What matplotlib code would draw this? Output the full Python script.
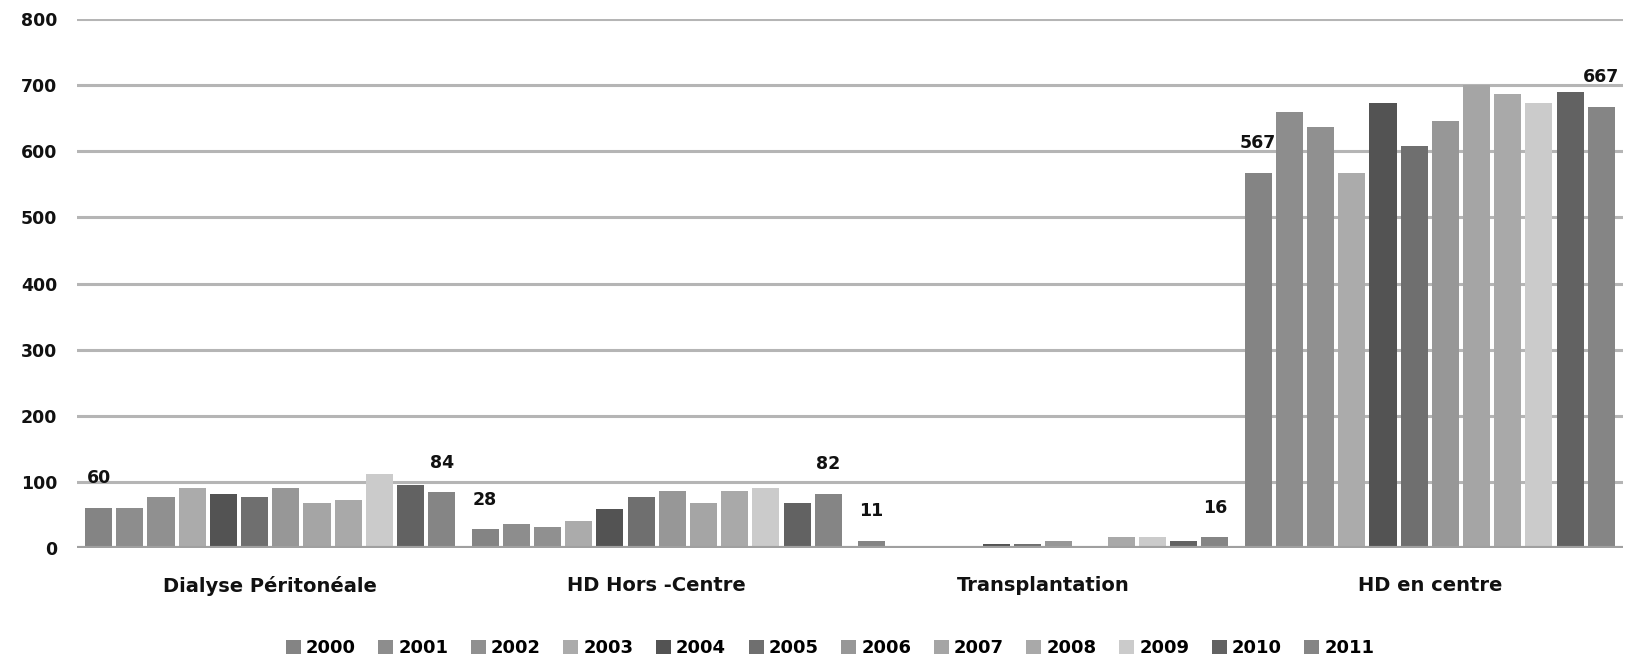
import numpy as np
import matplotlib
matplotlib.use('Agg')
import matplotlib.pyplot as plt

plt.rcParams['font.family'] = ['DejaVu Sans']

categories = ['Dialyse Péritonéale', 'HD Hors -Centre', 'Transplantation', 'HD en centre']
years = ['2000', '2001', '2002', '2003', '2004', '2005',
         '2006', '2007', '2008', '2009', '2010', '2011']

# effectifs par modalité de traitement, une valeur par année
dialyse_peritoneale = [60, 60, 77, 90, 82, 77, 90, 68, 72, 112, 96, 84]
hd_hors_centre = [28, 36, 32, 41, 59, 77, 86, 68, 86, 90, 68, 82]
transplantation = [11, 0, 0, 0, 6, 6, 11, 0, 16, 16, 11, 16]
hd_en_centre = [567, 659, 636, 567, 673, 608, 645, 700, 686, 673, 690, 667]

year_colors = ['#848484', '#8d8d8d', '#909090', '#ababab', '#535353', '#6f6f6f',
               '#979797', '#a5a5a5', '#a9a9a9', '#cbcbcb', '#626262', '#858585']

values = np.array([dialyse_peritoneale, hd_hors_centre, transplantation, hd_en_centre])

fig = plt.figure(figsize=(16.3, 6.6), dpi=100)
ax = fig.add_axes([0.0472, 0.1697, 0.9485, 0.8015])

x = np.arange(len(categories))
pitch = 0.0807
for i, year in enumerate(years):
    pos = x + (i - 5.5) * pitch
    ax.bar(pos, values[:, i], width=pitch - 0.0105, color=year_colors[i],
           linewidth=0, label=year, zorder=2)

# étiquettes : première et dernière année de chaque modalité
for c in range(len(categories)):
    for i in (0, len(years) - 1):
        v = values[c, i]
        ax.annotate(f'{v}', (x[c] + (i - 5.5) * pitch, v), xytext=(0, 21.5),
                    textcoords='offset points', ha='center', va='center',
                    fontsize=12.5, fontweight='bold', color='#111111')

ax.set_xlim(-0.5, 3.5)
ax.set_ylim(0, 800)
ax.set_yticks(range(0, 801, 100))
ax.set_xticks(x)
ax.set_xticklabels(categories, fontsize=14, fontweight='bold')
for lbl in ax.get_yticklabels():
    lbl.set_fontweight('bold')
ax.tick_params(axis='both', length=0, colors='#111111')
ax.tick_params(axis='y', labelsize=12.5, pad=14)
ax.tick_params(axis='x', pad=20)
ax.grid(axis='y', color='#b5b5b5', linewidth=2.2, zorder=0)
ax.set_axisbelow(True)
ax.axhline(0, color='#a0a0a0', linewidth=3, zorder=3)
for s in ax.spines.values():
    s.set_visible(False)

leg = fig.legend(loc='center', bbox_to_anchor=(830 / 1630, 1 - 648 / 660), ncol=12,
                 frameon=False, prop={'size': 13, 'weight': 'bold'},
                 handlelength=0.83, handleheight=0.83,
                 handletextpad=0.28, columnspacing=1.25, borderaxespad=0)

fig.savefig('out.png', dpi=100)
